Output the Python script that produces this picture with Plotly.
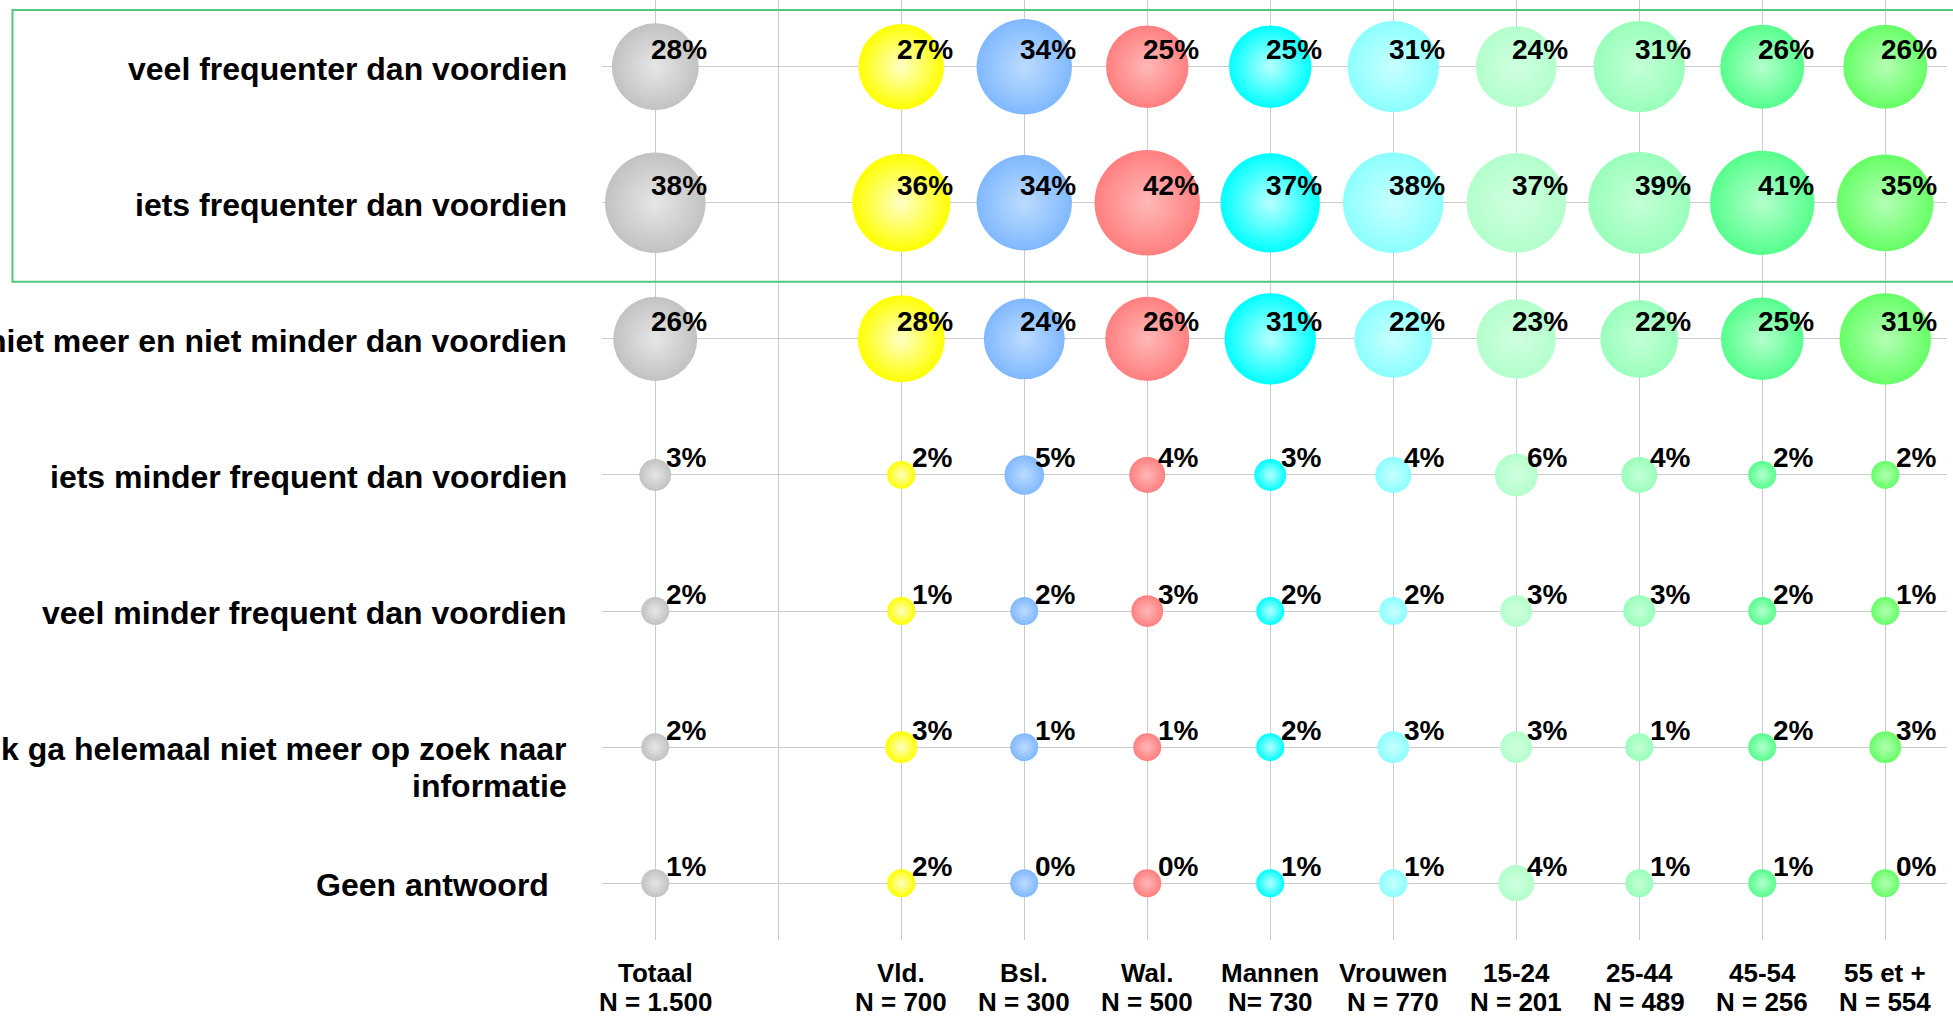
import math
import plotly.graph_objects as go

# ---------------- data ----------------
answers = [
    "veel frequenter dan voordien",
    "iets frequenter dan voordien",
    "niet meer en niet minder dan voordien",
    "iets minder frequent dan voordien",
    "veel minder frequent dan voordien",
    "k ga helemaal niet meer op zoek naar<br>informatie",
    "Geen antwoord\u00a0\u00a0",
]

group_names = ["Totaal", "Vld.", "Bsl.", "Wal.", "Mannen", "Vrouwen",
               "15-24", "25-44", "45-54", "55 et +"]
group_n = ["N = 1.500", "N = 700", "N = 300", "N = 500", "N= 730",
           "N = 770", "N = 201", "N = 489", "N = 256", "N = 554"]
# x slot of each group (slot 1 is an empty spacer column)
group_slot = [0, 2, 3, 4, 5, 6, 7, 8, 9, 10]

totaal = [28, 38, 26, 3, 2, 2, 1]
vld = [27, 36, 28, 2, 1, 3, 2]
bsl = [34, 34, 24, 5, 2, 1, 0]
wal = [25, 42, 26, 4, 3, 1, 0]
mannen = [25, 37, 31, 3, 2, 2, 1]
vrouwen = [31, 38, 22, 4, 2, 3, 1]
age_15_24 = [24, 37, 23, 6, 3, 3, 4]
age_25_44 = [31, 39, 22, 4, 3, 1, 1]
age_45_54 = [26, 41, 25, 2, 2, 2, 1]
age_55 = [26, 35, 31, 2, 1, 3, 0]

series = [totaal, vld, bsl, wal, mannen, vrouwen,
          age_15_24, age_25_44, age_45_54, age_55]

edge_colors = ["#c2c2c2", "#ffff00", "#80b8ff", "#ff7f7f", "#00ffff",
               "#8cffff", "#b3ffcc", "#99ffbb", "#55ff8c", "#66ff66"]
center_colors = ["#e6e6e6", "#ffffc8", "#bcdcff", "#ffb8b8", "#b8ffff",
                 "#c8ffff", "#d0ffe0", "#c4ffd8", "#b4ffcc", "#b4ffb4"]

FONT = "Liberation Sans, Arial, sans-serif"

rows = list(range(len(answers)))

fig = go.Figure()

for slot, vals, ec, cc in zip(group_slot, series, edge_colors, center_colors):
    sizes = [5 + 15.5 * math.sqrt(v) for v in vals]
    fig.add_trace(go.Scatter(
        x=[slot] * len(vals), y=rows, mode="markers",
        marker=dict(size=sizes, sizemode="diameter", sizemin=14,
                    color=ec, gradient=dict(type="radial", color=cc),
                    line=dict(width=0), opacity=1),
        hoverinfo="skip", showlegend=False, cliponaxis=False,
    ))
    for r, v in zip(rows, vals):
        fig.add_annotation(
            x=slot, y=r, xref="x", yref="y", text=f"{v:.0f}%",
            showarrow=False, xanchor="right", yanchor="middle",
            xshift=54, yshift=17,
            font=dict(family=FONT, size=28, color="black", weight="bold"),
        )

# category labels under the plot
for slot, name, n in zip(group_slot, group_names, group_n):
    fig.add_annotation(x=slot, y=0, xref="x", yref="paper", text=name,
                       showarrow=False, xanchor="center", yanchor="middle",
                       yshift=-33,
                       font=dict(family=FONT, size=26, color="black", weight="bold"))
    fig.add_annotation(x=slot, y=0, xref="x", yref="paper", text=n,
                       showarrow=False, xanchor="center", yanchor="middle",
                       yshift=-62,
                       font=dict(family=FONT, size=26, color="black", weight="bold"))

# answer labels on the left (each line placed separately)
for r, lab in zip(rows, answers):
    for k, line in enumerate(lab.split("<br>")):
        fig.add_annotation(x=0, y=r, xref="paper", yref="y", text=line,
                           showarrow=False, xanchor="right", yanchor="middle",
                           align="right", xshift=-33, yshift=-2 - 37 * k,
                           font=dict(family=FONT, size=32, color="black",
                                     weight="bold"))

# green highlight box around the top two answers
fig.add_shape(type="rect", xref="paper", yref="paper",
              x0=-0.4383, x1=1.05, y0=0.7003, y1=0.9894,
              line=dict(color="#52c882", width=2), fillcolor="rgba(0,0,0,0)",
              layer="above")

fig.update_xaxes(range=[-0.433, 10.502], tickmode="array",
                 tickvals=list(range(11)), showticklabels=False,
                 showgrid=True, gridcolor="#cccccc", gridwidth=1,
                 zeroline=False, showline=False, ticks="")
fig.update_yaxes(range=[6.417, -0.49], tickmode="array",
                 tickvals=rows, showticklabels=False,
                 showgrid=True, gridcolor="#cccccc", gridwidth=1,
                 zeroline=False, showline=False, ticks="")

fig.update_layout(
    width=1953, height=1018,
    margin=dict(l=602, r=6, t=0, b=78, pad=0),
    plot_bgcolor="white", paper_bgcolor="white",
    font=dict(family=FONT, color="black"),
)

fig.write_html("out.html", config={"displayModeBar": False},
               post_script="document.body.style.margin='0';")
